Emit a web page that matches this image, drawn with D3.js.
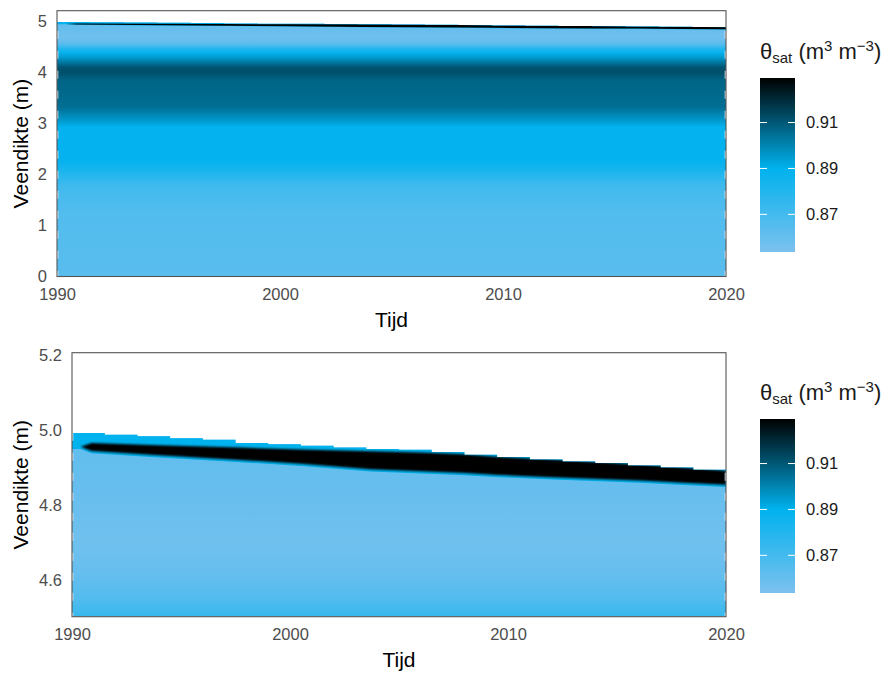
<!DOCTYPE html>
<html>
<head>
<meta charset="utf-8">
<script src="https://cdn.jsdelivr.net/npm/d3@7"></script>
<style>
body { margin: 0; background: #fff; }
svg { display: block; font-family: "Liberation Sans", Arial, sans-serif; }
</style>
</head>
<body>
<svg width="887" height="673"></svg>
<script>
// Tick labels
var xTicks = [1990, 2000, 2010, 2020];
var topTicks = [0, 1, 2, 3, 4, 5];
var zoomTicks = [4.6, 4.8, 5.0, 5.2];
var legendTicks = [0.87, 0.89, 0.91];

// Surface of the peat (m) per model step, step starts in years
var stepYears = [1990, 1991.5, 1993, 1994.5, 1996, 1997.5, 1999, 2000.5, 2002, 2003.5,
	2005, 2006.5, 2008, 2009.5, 2011, 2012.5, 2014, 2015.5, 2017, 2018.5];
var surface = [4.992, 4.987, 4.983, 4.978, 4.974, 4.965, 4.962, 4.958, 4.953, 4.949,
	4.947, 4.941, 4.934, 4.928, 4.921, 4.916, 4.912, 4.905, 4.900, 4.894];

// Dense (high theta_sat) layer just below the surface
var bandYears = [1990, 1990.4, 1990.9, 1993.6, 1997.7, 2000.5, 2003.7, 2006, 2008, 2009.6, 2012, 2014.2, 2016, 2018, 2020];
var bandTop = [4.955, 4.955, 4.965, 4.960, 4.953, 4.948, 4.943, 4.940, 4.935, 4.928, 4.921, 4.914, 4.908, 4.900, 4.891];
var bandBottom = [4.955, 4.955, 4.944, 4.934, 4.920, 4.910, 4.895, 4.890, 4.885, 4.880, 4.874, 4.869, 4.865, 4.859, 4.854];

// theta_sat profile with height (m) below the dense layer
var profileDepth = [0, 1.25, 1.76, 2.15, 2.3, 2.93, 3.1, 3.33, 3.85, 4.0, 4.1, 4.3, 4.4, 4.48, 4.55, 4.62, 4.7, 4.85, 5.0];
var profileTheta = [0.864, 0.866, 0.871, 0.885, 0.889, 0.889, 0.897, 0.905, 0.907, 0.912, 0.911, 0.895, 0.888, 0.878, 0.866, 0.860, 0.857, 0.860, 0.862];

var LEGEND_X = 760, LEGEND_W = 35;

var panels = [
	{ id: "top", left: 57, right: 726, top: 10.7, bottom: 276.5, domain: [0, 5.216], ticks: topTicks, fmt: d3.format("d"), legendTop: 78, blur: false },
	{ id: "zoom", left: 72, right: 726, top: 352.7, bottom: 616.7, domain: [4.502, 5.206], ticks: zoomTicks, fmt: d3.format(".1f"), legendTop: 419, blur: true }
];

var svg = d3.select("svg");
var defs = svg.append("defs");

var color = d3.scaleLinear()
	.domain([0.8536, 0.89, 0.9294])
	.range(["#7cc1ee", "#00b2ee", "#000000"]);

defs.append("filter").attr("id", "soft")
	.attr("x", "-5%").attr("y", "-50%").attr("width", "110%").attr("height", "200%")
	.append("feGaussianBlur").attr("stdDeviation", 1.1);

panels.forEach(function (p) {
	var x = d3.scaleLinear().domain([1990, 2020]).range([p.left, p.right]);
	var y = d3.scaleLinear().domain(p.domain).range([p.bottom, p.top]);
	var W = p.right - p.left;

	// vertical gradient of the profile, in user space so both panels share values
	var grad = defs.append("linearGradient")
		.attr("id", "prof-" + p.id)
		.attr("gradientUnits", "userSpaceOnUse")
		.attr("x1", 0).attr("x2", 0)
		.attr("y1", y(0)).attr("y2", y(5));
	profileDepth.forEach(function (d, i) {
		grad.append("stop")
			.attr("offset", d / 5)
			.attr("stop-color", color(profileTheta[i]));
	});

	defs.append("clipPath").attr("id", "plot-" + p.id)
		.append("rect")
		.attr("x", p.left).attr("y", p.top)
		.attr("width", W).attr("height", p.bottom - p.top);

	// region below the (stepped) surface
	var steps = stepYears.map(function (t, i) { return { t: t, z: surface[i] }; });
	steps.push({ t: 2020, z: surface[surface.length - 1] });
	var under = d3.area()
		.x(function (d) { return x(d.t); })
		.y0(y(p.domain[0]))
		.y1(function (d) { return y(d.z); })
		.curve(d3.curveStepAfter);
	defs.append("clipPath").attr("id", "surf-" + p.id)
		.append("path").attr("d", under(steps));

	var g = svg.append("g").attr("clip-path", "url(#plot-" + p.id + ")");
	var heat = g.append("g").attr("clip-path", "url(#surf-" + p.id + ")");

	heat.append("rect")
		.attr("x", p.left).attr("y", y(5.1))
		.attr("width", W).attr("height", y(p.domain[0]) - y(5.1))
		.attr("fill", "url(#prof-" + p.id + ")");

	var band = bandYears.map(function (t, i) { return { t: t, a: bandTop[i], b: bandBottom[i] }; });

	heat.append("path")
		.attr("fill", color(0.89))
		.attr("d", d3.area()
			.x(function (d) { return x(d.t); })
			.y0(function (d) { return y(d.b - 0.006); })
			.y1(y(5.2))(band));

	heat.append("path")
		.attr("fill", color(0.9294))
		.attr("filter", p.blur ? "url(#soft)" : null)
		.attr("d", d3.area()
			.x(function (d) { return x(d.t); })
			.y0(function (d) { return y(d.b); })
			.y1(function (d) { return y(d.a); })(band));

	// white dashed lines at the start and end of the period
	g.selectAll("line.edge")
		.data([1990, 2020])
		.enter().append("line")
		.attr("class", "edge")
		.attr("x1", function (d) { return x(d); })
		.attr("x2", function (d) { return x(d); })
		.attr("y1", p.top).attr("y2", p.bottom)
		.attr("stroke", "#fff")
		.attr("stroke-width", 2.5)
		.attr("stroke-dasharray", "8,12");

	svg.append("rect")
		.attr("x", p.left).attr("y", p.top)
		.attr("width", W).attr("height", p.bottom - p.top)
		.attr("fill", "none")
		.attr("stroke", "#555")
		.attr("stroke-width", 1.1);

	// axes
	var yAxis = d3.axisLeft(y).tickValues(p.ticks).tickFormat(p.fmt).tickSize(0).tickPadding(10);
	var ya = svg.append("g").attr("transform", "translate(" + p.left + ",0)").call(yAxis);
	var xAxis = d3.axisBottom(x).tickValues(xTicks).tickFormat(d3.format("d")).tickSize(0).tickPadding(12);
	var xa = svg.append("g").attr("transform", "translate(0," + p.bottom + ")").call(xAxis);
	[ya, xa].forEach(function (a) {
		a.select(".domain").remove();
		a.selectAll("text")
			.attr("fill", "#4d4d4d")
			.style("font-size", "16.5px")
			.style("font-family", "'Liberation Sans', Arial, sans-serif");
	});

	svg.append("text")
		.attr("x", (p.left + p.right) / 2)
		.attr("y", p.bottom + 50)
		.attr("text-anchor", "middle")
		.attr("font-size", 21)
		.text("Tijd");

	svg.append("text")
		.attr("transform", "translate(28," + (p.top + p.bottom) / 2 + ") rotate(-90)")
		.attr("text-anchor", "middle")
		.attr("font-size", 21)
		.text("Veendikte (m)");

	// colour bar legend
	var lg = d3.scaleLinear().domain([0.8536, 0.9294]).range([p.legendTop + 174, p.legendTop]);
	var lgrad = defs.append("linearGradient")
		.attr("id", "leg-" + p.id)
		.attr("x1", 0).attr("x2", 0).attr("y1", 1).attr("y2", 0);
	color.domain().forEach(function (v) {
		lgrad.append("stop")
			.attr("offset", (v - lg.domain()[0]) / (lg.domain()[1] - lg.domain()[0]))
			.attr("stop-color", color(v));
	});
	svg.append("rect")
		.attr("x", LEGEND_X).attr("y", p.legendTop)
		.attr("width", LEGEND_W).attr("height", 174)
		.attr("fill", "url(#leg-" + p.id + ")");

	legendTicks.forEach(function (v) {
		[LEGEND_X, LEGEND_X + LEGEND_W - 7].forEach(function (lx) {
			svg.append("line")
				.attr("x1", lx).attr("x2", lx + 7)
				.attr("y1", lg(v)).attr("y2", lg(v))
				.attr("stroke", "#fff").attr("stroke-width", 1);
		});
		svg.append("text")
			.attr("x", LEGEND_X + LEGEND_W + 11)
			.attr("y", lg(v))
			.attr("dy", "0.36em")
			.attr("font-size", 16.5)
			.attr("fill", "#1a1a1a")
			.text(d3.format(".2f")(v));
	});

	var title = svg.append("text")
		.attr("x", LEGEND_X)
		.attr("y", p.legendTop - 19)
		.attr("font-size", 22)
		.attr("fill", "#1a1a1a");
	title.append("tspan").text("θ");
	title.append("tspan").attr("dy", 4).attr("font-size", 15).text("sat");
	title.append("tspan").attr("dy", -4).text(" (m");
	title.append("tspan").attr("dy", -8).attr("font-size", 15).text("3");
	title.append("tspan").attr("dy", 8).text(" m");
	title.append("tspan").attr("dy", -8).attr("font-size", 15).text("−3");
	title.append("tspan").attr("dy", 8).text(")");
});
</script>
</body>
</html>
